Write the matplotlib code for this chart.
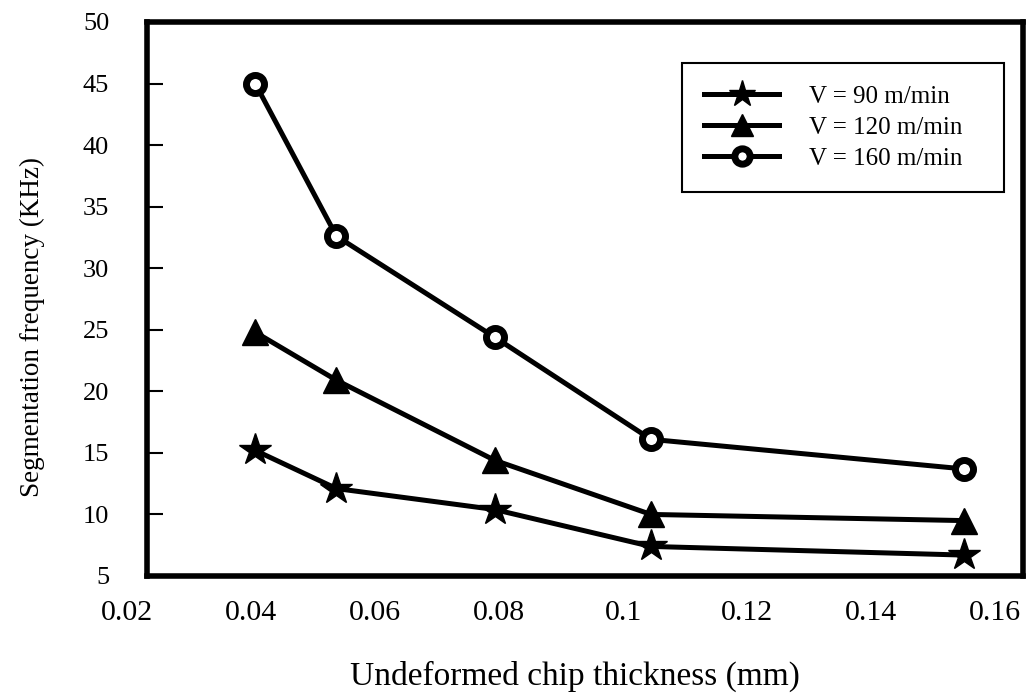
import matplotlib
matplotlib.use("Agg")
import matplotlib.pyplot as plt

# Data
thickness = [0.0407, 0.0538, 0.0793, 0.1045, 0.1549]   # undeformed chip thickness (mm)
freq_v90 = [15.2, 12.1, 10.4, 7.4, 6.7]                # V = 90 m/min
freq_v120 = [24.8, 20.9, 14.4, 10.0, 9.5]              # V = 120 m/min
freq_v160 = [45.0, 32.6, 24.4, 16.1, 13.7]             # V = 160 m/min
labels = ["V = 90 m/min", "V = 120 m/min", "V = 160 m/min"]

x_ticks = [0.04, 0.06, 0.08, 0.1, 0.12, 0.14, 0.16]
y_ticks = [5, 10, 15, 20, 25, 30, 35, 40, 45, 50]

plt.rcParams['font.family'] = ['Liberation Serif', 'DejaVu Serif']

fig = plt.figure(figsize=(10.34, 6.98), dpi=100)
ax = fig.add_axes([0.1419, 0.1748, 0.8475, 0.7937])

lw = 3.6
ax.plot(thickness, freq_v90, color='black', lw=lw, marker='*', ms=24,
        mfc='black', mec='black', label=labels[0], zorder=3)
ax.plot(thickness, freq_v120, color='black', lw=lw, marker='^', ms=19,
        mfc='black', mec='black', label=labels[1], zorder=3)
ax.plot(thickness, freq_v160, color='black', lw=lw, marker='o', ms=13,
        mfc='white', mec='black', mew=5, label=labels[2], zorder=4)

ax.set_xlim(0.0232, 0.1645)
ax.set_ylim(5, 50)
ax.set_xticks(x_ticks)
ax.set_xticklabels([f"{t:g}" for t in x_ticks])
ax.set_yticks(y_ticks)
ax.set_yticklabels([str(t) for t in y_ticks])

ax.tick_params(axis='x', length=0, pad=17, labelsize=21.5)
ax.tick_params(axis='y', direction='in', length=11.5, width=1.5,
               pad=27, labelsize=19, left=True, right=False)

# first x label sits left of the frame in the original
ax.annotate("0.02", xy=(0.02, 0), xycoords=('data', 'axes fraction'),
            xytext=(0, -17), textcoords='offset points', ha='center',
            va='top', fontsize=21.5, annotation_clip=False)

for s in ax.spines.values():
    s.set_linewidth(4)
    s.set_color('black')

ax.set_xlabel("Undeformed chip thickness (mm)", fontsize=24)
ax.xaxis.set_label_coords(0.489, -0.182)
ax.xaxis.label.set_va('center')
ax.set_ylabel("Segmentation frequency (KHz)", fontsize=19.5)
ax.yaxis.set_label_coords(-0.130, 0.449)
ax.yaxis.label.set_va('center')

leg = ax.legend(loc='upper left', bbox_to_anchor=(0.6105, 0.926 - 0.229, 0.368, 0.229),
                mode='expand', fontsize=18, frameon=True, fancybox=False,
                framealpha=1, edgecolor='black', handlelength=3.0,
                handletextpad=1.2, borderpad=0.9, labelspacing=0.34,
                markerscale=0.85, borderaxespad=0)
leg.get_frame().set_linewidth(1.5)

fig.savefig("out.png", dpi=100)
